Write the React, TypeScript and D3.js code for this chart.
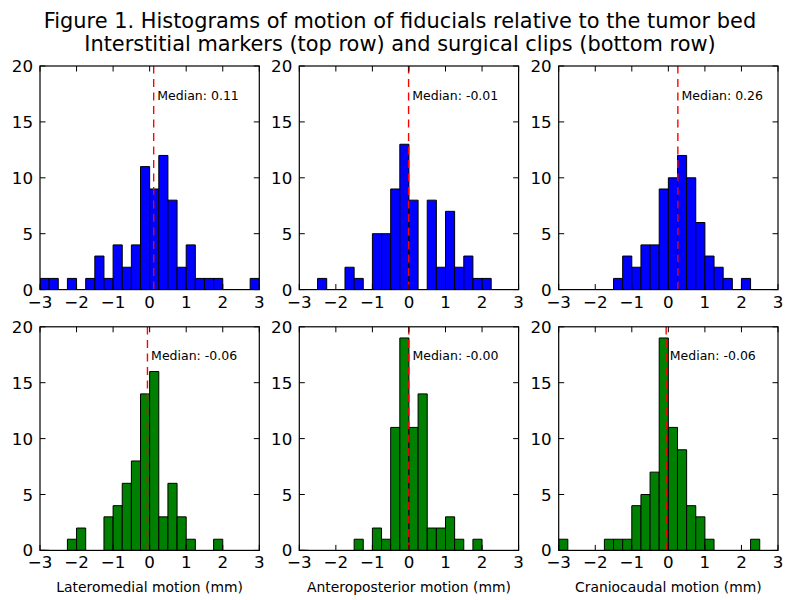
import React from "react";
import * as d3 from "d3";

const binStart = -3;
const binWidth = 0.25;

const lateralInterstitial = [1, 1, 0, 1, 0, 1, 3, 1, 4, 2, 4, 11, 9, 12, 8, 2, 4, 1, 1, 1, 0, 0, 0, 1];
const anteroInterstitial = [0, 0, 1, 0, 0, 2, 1, 0, 5, 5, 9, 13, 8, 0, 8, 2, 7, 2, 3, 1, 1, 0, 0, 0];
const cranioInterstitial = [0, 0, 0, 0, 0, 0, 1, 3, 2, 4, 4, 9, 10, 12, 10, 6, 3, 2, 1, 0, 1, 0, 0, 0];
const lateralClips = [0, 0, 0, 1, 2, 0, 0, 3, 4, 6, 8, 14, 16, 3, 6, 3, 1, 0, 0, 1, 0, 0, 0, 0];
const anteroClips = [0, 0, 0, 0, 0, 0, 1, 0, 2, 1, 11, 19, 11, 14, 2, 2, 3, 1, 0, 1, 0, 0, 0, 0];
const cranioClips = [1, 0, 0, 0, 0, 1, 1, 1, 4, 5, 7, 19, 11, 9, 4, 3, 1, 0, 0, 0, 0, 1, 0, 0];

const medians = [0.11, -0.01, 0.26, -0.06, -0.004, -0.06];
const xTicks = [-3, -2, -1, 0, 1, 2, 3];
const yTicks = [0, 5, 10, 15, 20];
const xLabels = ["Lateromedial motion (mm)", "Anteroposterior motion (mm)", "Craniocaudal motion (mm)"];
const titleLines = [
  "Figure 1. Histograms of motion of fiducials relative to the tumor bed",
  "Interstitial markers (top row) and surgical clips (bottom row)",
];

const seriesList = [lateralInterstitial, anteroInterstitial, cranioInterstitial, lateralClips, anteroClips, cranioClips];
const rowColors = ["#0000ff", "#008000"];

const colLefts = [40, 299.3, 558.7];
const panelW = 219.3;
const rowTops = [66, 326.8];
const panelH = 223.6;
const FONT = "DejaVu Sans";
const fmtTick = (v: number) => (v < 0 ? "\u2212" + Math.abs(v) : String(v));

function Panel({ idx }: { idx: number }) {
  const row = Math.floor(idx / 3);
  const col = idx % 3;
  const left = colLefts[col];
  const top = rowTops[row];
  const x = d3.scaleLinear().domain([-3, 3]).range([left, left + panelW]);
  const y = d3.scaleLinear().domain([0, 20]).range([top + panelH, top]);
  const counts = seriesList[idx];
  const med = medians[idx];
  const tickLen = 5.5;

  return (
    <g>
      <defs>
        <clipPath id={`clip${idx}`}>
          <rect x={left} y={top} width={panelW} height={panelH} />
        </clipPath>
      </defs>
      <g clipPath={`url(#clip${idx})`}>
        {counts.map((c, i) => {
          if (c === 0 && i !== 0) return null;
          const x0 = x(binStart + i * binWidth);
          const x1 = x(binStart + (i + 1) * binWidth);
          const p = d3.path();
          p.moveTo(x0, y(0));
          p.lineTo(x0, y(c));
          p.lineTo(x1, y(c));
          p.lineTo(x1, y(0));
          p.closePath();
          return <path key={i} d={p.toString()} fill={rowColors[row]} stroke="#000" strokeWidth={1} />;
        })}
        <line x1={x(med)} x2={x(med)} y1={y(0)} y2={y(20)} stroke="#ff0000" strokeWidth={1.4} strokeDasharray="8,5.5" />
      </g>
      <text x={x(med + 0.1)} y={y(17)} fontFamily={FONT} fontSize={12.5} fill="#000">
        {"Median: " + med.toFixed(2)}
      </text>
      <rect x={left} y={top} width={panelW} height={panelH} fill="none" stroke="#000" strokeWidth={1.2} />
      {xTicks.map((t) => (
        <g key={"x" + t}>
          <line x1={x(t)} x2={x(t)} y1={y(0)} y2={y(0) - tickLen} stroke="#000" strokeWidth={1} />
          <line x1={x(t)} x2={x(t)} y1={y(20)} y2={y(20) + tickLen} stroke="#000" strokeWidth={1} />
          <text x={x(t)} y={y(0) + 18} textAnchor="middle" fontFamily={FONT} fontSize={16.7} fill="#000">
            {fmtTick(t)}
          </text>
        </g>
      ))}
      {yTicks.map((t) => (
        <g key={"y" + t}>
          <line x1={left} x2={left + tickLen} y1={y(t)} y2={y(t)} stroke="#000" strokeWidth={1} />
          <line x1={left + panelW} x2={left + panelW - tickLen} y1={y(t)} y2={y(t)} stroke="#000" strokeWidth={1} />
          <text x={left - 7} y={y(t)} dy="0.36em" textAnchor="end" fontFamily={FONT} fontSize={16.7} fill="#000">
            {fmtTick(t)}
          </text>
        </g>
      ))}
      {row === 1 && (
        <text x={left + panelW / 2} y={592} textAnchor="middle" fontFamily={FONT} fontSize={13.9} fill="#000">
          {xLabels[col]}
        </text>
      )}
    </g>
  );
}

export default function App() {
  return (
    <svg width={800} height={600} style={{ position: "absolute", left: 0, top: 0, background: "#fff" }}>
      <rect x={0} y={0} width={800} height={600} fill="#fff" />
      {titleLines.map((t, i) => (
        <text key={i} x={400} y={28 + i * 23} textAnchor="middle" fontFamily={FONT} fontSize={20.9} fill="#000">
          {t}
        </text>
      ))}
      {seriesList.map((_, i) => (
        <Panel key={i} idx={i} />
      ))}
    </svg>
  );
}
